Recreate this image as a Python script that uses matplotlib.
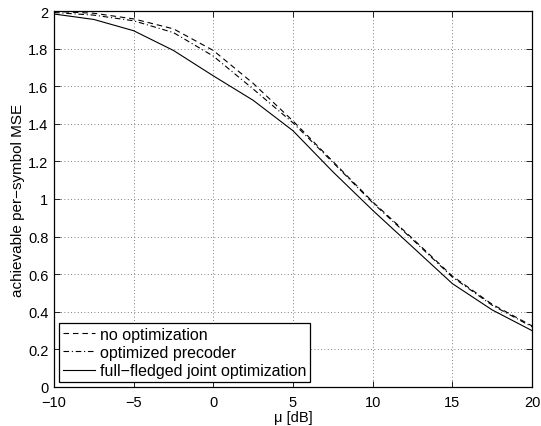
import numpy as np
import matplotlib
matplotlib.use('Agg')
import matplotlib.pyplot as plt
from matplotlib.ticker import FixedLocator

plt.rcParams['font.family'] = ['Liberation Sans', 'DejaVu Sans']
plt.rcParams['axes.unicode_minus'] = True

mu_db = [-10, -7.5, -5, -2.5, 0, 2.5, 5, 7.5, 10, 12.5, 15, 17.5, 20]
mse_no_opt = [1.998, 1.988, 1.958, 1.905, 1.79, 1.615, 1.415, 1.20, 0.985, 0.79, 0.59, 0.44, 0.325]
mse_precoder = [1.992, 1.978, 1.948, 1.885, 1.76, 1.585, 1.405, 1.195, 0.98, 0.785, 0.585, 0.435, 0.32]
mse_joint = [1.984, 1.955, 1.895, 1.79, 1.655, 1.525, 1.363, 1.145, 0.94, 0.745, 0.55, 0.41, 0.30]

x_ticks = [-10, -5, 0, 5, 10, 15, 20]
y_ticks = [0, 0.2, 0.4, 0.6, 0.8, 1, 1.2, 1.4, 1.6, 1.8, 2]
y_tick_labels = ['0', '0.2', '0.4', '0.6', '0.8', '1', '1.2', '1.4', '1.6', '1.8', '2']

fig = plt.figure(figsize=(5.41, 4.27), dpi=100)
ax = fig.add_axes([54 / 541, 1 - 388 / 427, 478 / 541, 376 / 427])

ax.plot(mu_db, mse_no_opt, color='k', linestyle=(0, (5, 3.5)), linewidth=0.8,
        label='no optimization')
ax.plot(mu_db, mse_precoder, color='k', linestyle=(0, (5, 2.5, 1, 2.5)), linewidth=0.8,
        label='optimized precoder')
ax.plot(mu_db, mse_joint, color='k', linestyle='-', linewidth=0.8,
        label='full\u2212fledged joint optimization')

ax.set_xlim(-10, 20)
ax.set_ylim(0, 2)
ax.xaxis.set_major_locator(FixedLocator(x_ticks))
ax.set_xticklabels([str(t).replace('-', '\u2212') for t in x_ticks])
ax.set_yticks(y_ticks)
ax.set_yticklabels(y_tick_labels)
ax.tick_params(direction='in', top=True, right=True, length=4, width=0.6, labelsize=10.5)
ax.tick_params(axis='x', pad=6)
ax.tick_params(axis='y', pad=4)
ax.grid(True, linestyle=(0, (1, 3)), color='#555555', linewidth=0.6)
for s in ax.spines.values():
    s.set_linewidth(0.9)

ax.set_xlabel('\u03bc [dB]', fontsize=10.5, labelpad=0.5)
ax.set_ylabel('achievable per\u2212symbol MSE', fontsize=11, labelpad=2)

leg = ax.legend(loc='lower left', fontsize=11.5, fancybox=False, framealpha=1,
                edgecolor='k', borderpad=0.25, labelspacing=0.2, handlelength=2.0,
                handletextpad=0.3, borderaxespad=0.3)
leg.get_frame().set_linewidth(0.9)

fig.savefig('out.png', dpi=100)
